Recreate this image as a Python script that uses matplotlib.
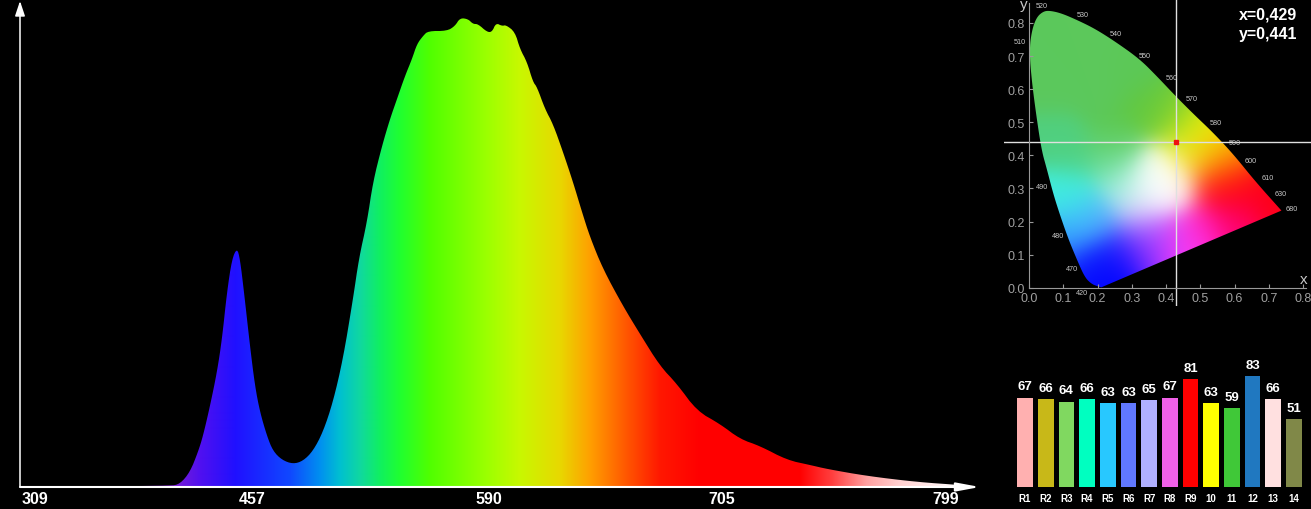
import numpy as np
import matplotlib
matplotlib.use('Agg')
import matplotlib.pyplot as plt
from matplotlib.colors import to_rgb
from matplotlib.patches import Polygon

plt.rcParams['font.family'] = ['Liberation Sans', 'DejaVu Sans']

W, H = 1311, 510

# spectrum, position along the axis and height above the baseline
spectrum_x = [20, 170, 180, 190, 198, 203, 210, 217, 222, 227, 232, 237, 240, 244, 250, 255, 260, 267, 273, 282,
              293, 303, 313, 323, 333, 343, 353, 359, 367, 373, 382, 390, 397, 405, 412, 417, 423, 428, 447, 455,
              460, 468, 473, 478, 487, 492, 496, 502, 506, 515, 520, 527, 533, 537, 545, 553, 563, 573, 582, 590,
              603, 623, 640, 660, 677, 697, 720, 740, 760, 787, 810, 827, 867, 917, 960, 975]
spectrum_h = [0.5, 1, 3, 15, 35, 51, 81, 115, 148, 195, 228, 239, 228, 195, 141, 101, 75, 51, 36, 27,
              23, 26, 36, 55, 85, 128, 188, 229, 265, 305, 341, 368, 388, 411, 428, 443, 451, 456, 456, 461,
              469, 468, 463, 463, 455, 455, 464, 461, 462, 455, 438, 425, 405, 400, 378, 363, 335, 305, 275, 250,
              218, 181, 153, 121, 103, 76, 63, 48, 41, 27, 22, 18, 11, 5, 2, 0.5]
wave_pos = [35, 252, 489, 722, 946]
wave_labels = ['309', '457', '590', '705', '799']

# colour along the spectrum
grad_pos = [20, 170, 200, 235, 290, 320, 340, 360, 380, 400, 430, 490, 520, 560, 590, 630, 660, 700, 800, 833, 867,
            900, 960, 980]
grad_col = ['#8020d0', '#8020d0', '#5010f0', '#2010ff', '#1048ff', '#0090f0', '#00c0d0', '#10d8a0', '#10f060',
            '#20ff30', '#50ff00', '#a0ff00', '#c8f800', '#e8d800', '#ffa000', '#ff5000', '#ff1800', '#ff0000',
            '#ff0000', '#ff4040', '#ffa0a0', '#ffd0d0', '#ffffff', '#ffffff']

# chromaticity diagram
locus_x = [0.211, 0.201, 0.183, 0.163, 0.139, 0.115, 0.091, 0.071, 0.052, 0.037, 0.022, 0.008, 0.001, 0.008, 0.022,
           0.042, 0.061, 0.095, 0.144, 0.193, 0.251, 0.323, 0.375, 0.427, 0.480, 0.537, 0.596, 0.660, 0.737]
locus_y = [0.001, 0.004, 0.011, 0.031, 0.087, 0.147, 0.218, 0.283, 0.359, 0.414, 0.515, 0.625, 0.716, 0.776, 0.817,
           0.835, 0.837, 0.829, 0.807, 0.782, 0.744, 0.691, 0.637, 0.580, 0.525, 0.469, 0.404, 0.322, 0.233]
nm_labels = ['520', '530', '540', '550', '560', '570', '580', '590', '600', '610', '630', '680', '510', '490', '480',
             '470', '420']
nm_x = [0.038, 0.156, 0.253, 0.338, 0.417, 0.476, 0.546, 0.601, 0.648, 0.696, 0.734, 0.768, -0.027, 0.039, 0.085,
        0.124, 0.156]
nm_y = [0.852, 0.824, 0.767, 0.700, 0.636, 0.572, 0.500, 0.439, 0.385, 0.333, 0.284, 0.238, 0.745, 0.307, 0.157,
        0.057, -0.015]
point_x = 0.429
point_y = 0.441
# colours seen at some spots inside the diagram
spot_x = [0.05, 0.15, 0.05, 0.20, 0.30, 0.35, 0.42, 0.25, 0.05, 0.12, 0.25, 0.48, 0.53, 0.47, 0.55, 0.57, 0.55, 0.62,
          0.72, 0.60, 0.50, 0.45, 0.38, 0.33, 0.25, 0.20, 0.16, 0.36, 0.42, 0.38, 0.33, 0.28, 0.12, 0.07, 0.12, 0.10,
          0.20]
spot_y = [0.80, 0.75, 0.60, 0.60, 0.65, 0.55, 0.52, 0.45, 0.45, 0.40, 0.38, 0.47, 0.46, 0.40, 0.41, 0.37, 0.30, 0.30,
          0.25, 0.20, 0.18, 0.13, 0.15, 0.13, 0.10, 0.02, 0.06, 0.30, 0.30, 0.35, 0.22, 0.30, 0.28, 0.28, 0.20, 0.14,
          0.20]
spot_col = ['#5cc85c', '#5cc85c', '#5cc85c', '#5cc85c', '#5cc858', '#60c840', '#80d030', '#5cc850', '#50d080',
            '#50d080', '#70e0a0', '#c8e810', '#f8f800', '#f8f030', '#ffb000', '#ff6000', '#ff0018', '#ff0018',
            '#ff0018', '#ff0070', '#ff20c0', '#ff40ff', '#c040ff', '#6020ff', '#1010ff', '#0000ff', '#1020ff',
            '#ffffff', '#ffffff', '#ffffff', '#e0d0ff', '#a0f0e0', '#40f0e0', '#40f0e0', '#40c0ff', '#3090ff',
            '#50b0ff']

# colour rendering index bars
cri_labels = ['R1', 'R2', 'R3', 'R4', 'R5', 'R6', 'R7', 'R8', 'R9', '10', '11', '12', '13', '14']
cri_values = [67, 66, 64, 66, 63, 63, 65, 67, 81, 63, 59, 83, 66, 51]
cri_colors = ['#ffb0b0', '#c8b818', '#80d860', '#00ffc0', '#28c8ff', '#6078ff', '#b0b0ff', '#f060e8', '#ff0000',
              '#ffff00', '#40c838', '#2078c0', '#ffe0e0', '#808848']


def px_axes(fig, left, top, right, bottom):
    return fig.add_axes([left / W, 1 - bottom / H, (right - left) / W, (bottom - top) / H], facecolor='black')


def round_corners(pts, times=3):
    # corner cutting, the two end points stay where they are
    for _ in range(times):
        q = 0.75 * pts[:-1] + 0.25 * pts[1:]
        r = 0.25 * pts[:-1] + 0.75 * pts[1:]
        mid = np.empty((len(q) * 2, 2))
        mid[0::2] = q
        mid[1::2] = r
        pts = np.vstack([pts[:1], mid, pts[-1:]])
    return pts


fig = plt.figure(figsize=(W / 100, H / 100), dpi=100, facecolor='black')

# main spectrum
ax = px_axes(fig, 20, 0, 980, 488)
ax.set_xlim(20, 980)
ax.set_ylim(0, 488)
pos = np.linspace(20, 980, 960)
rgb = np.array([to_rgb(c) for c in grad_col])
strip = np.stack([np.interp(pos, grad_pos, rgb[:, k]) for k in range(3)], axis=1)[np.newaxis, :, :]
im = ax.imshow(strip, extent=(20, 980, 0, 488), aspect='auto', interpolation='bilinear')
edge = round_corners(np.column_stack([spectrum_x, spectrum_h]), times=2)
outline = Polygon(np.vstack([edge, [[975, 0], [20, 0]]]), closed=True, transform=ax.transData, fc='none', ec='none')
ax.add_patch(outline)
im.set_clip_path(outline)
for s in ax.spines.values():
    s.set_visible(False)
ax.set_xticks(wave_pos)
ax.set_xticklabels(wave_labels, color='white', fontsize=11.5, fontweight='bold')
ax.set_yticks([])
ax.tick_params(axis='x', length=0, pad=3)
ax.annotate('', xy=(980, 0), xytext=(20, 0), annotation_clip=False,
            arrowprops=dict(arrowstyle='-|>,head_length=1.4,head_width=0.26', color='white', lw=1.5,
                            shrinkA=0, shrinkB=0, mutation_scale=10))
ax.annotate('', xy=(20, 486), xytext=(20, 0), annotation_clip=False,
            arrowprops=dict(arrowstyle='-|>,head_length=0.9,head_width=0.3', color='white', lw=1.1,
                            shrinkA=0, shrinkB=0, mutation_scale=10))

# chromaticity diagram
cx = px_axes(fig, 1004, 0, 1311, 307)
gx, gy = np.meshgrid(np.linspace(0, 0.8, 300), np.linspace(0, 0.87, 300))
d2 = (gx[..., None] - np.array(spot_x)) ** 2 + (gy[..., None] - np.array(spot_y)) ** 2
wgt = np.exp(-d2 / (2 * 0.055 ** 2)) + 1e-12
field = wgt @ np.array([to_rgb(c) for c in spot_col]) / wgt.sum(axis=2, keepdims=True)
gim = cx.imshow(field, extent=(0, 0.8, 0, 0.87), origin='lower', aspect='auto', interpolation='bilinear')
shape = Polygon(round_corners(np.column_stack([locus_x, locus_y])), closed=True, transform=cx.transData,
                fc='none', ec='none')
cx.add_patch(shape)
gim.set_clip_path(shape)
cx.set_xlim((1004 - 1029) / 342.5, (1311 - 1029) / 342.5)
cx.set_ylim((288.7 - 307) / 331, 288.7 / 331)
for side in ['top', 'right']:
    cx.spines[side].set_visible(False)
for side in ['left', 'bottom']:
    cx.spines[side].set_color('#999999')
    cx.spines[side].set_position(('data', 0))
cx.spines['left'].set_bounds(0, 0.86)
cx.spines['bottom'].set_bounds(0, 0.81)
ticks = [0.0, 0.1, 0.2, 0.3, 0.4, 0.5, 0.6, 0.7, 0.8]
tick_text = ['%.1f' % t for t in ticks]
cx.set_xticks(ticks)
cx.set_xticklabels(tick_text)
cx.set_yticks(ticks)
cx.set_yticklabels(tick_text)
cx.tick_params(direction='in', length=3, width=0.8, color='#999999', labelcolor='#a0a0a0', labelsize=9, pad=3)
for lab, x0, y0 in zip(nm_labels, nm_x, nm_y):
    cx.text(x0, y0, lab, color='#c8c8c8', fontsize=5.2, ha='center', va='center')
cx.text(0.802, 0.027, 'x', color='#c8c8c8', fontsize=11, ha='center', va='center')
cx.text(-0.016, 0.857, 'y', color='#c8c8c8', fontsize=11, ha='center', va='center')
cx.axvline(point_x, color='#e0e0e0', lw=1)
cx.axhline(point_y, color='#e0e0e0', lw=1)
cx.plot([point_x], [point_y], 's', color='#ee1111', ms=3.5)
cx.text(0.782, 0.827, 'x=0,429', color='white', fontsize=11.5, fontweight='bold', ha='right', va='center')
cx.text(0.782, 0.769, 'y=0,441', color='white', fontsize=11.5, fontweight='bold', ha='right', va='center')

# bars
bx = px_axes(fig, 1015, 350, 1311, 488)
idx = np.arange(len(cri_values))
bx.bar(idx, cri_values, width=0.76, color=cri_colors)
bx.set_xlim((1015 - 1025) / 20.69, (1311 - 1025) / 20.69)
bx.set_ylim(0, 138 / 1.333)
for i, v in zip(idx, cri_values):
    bx.text(i, v + 4, str(v), color='white', fontsize=9.5, fontweight='bold', ha='center', va='bottom', clip_on=False)
for s in bx.spines.values():
    s.set_visible(False)
bx.set_yticks([])
bx.set_xticks(idx)
bx.set_xticklabels(cri_labels, color='white', fontsize=7, fontweight='bold')
bx.tick_params(axis='x', length=0, pad=4)

fig.savefig('out.png', dpi=100, facecolor='black')
